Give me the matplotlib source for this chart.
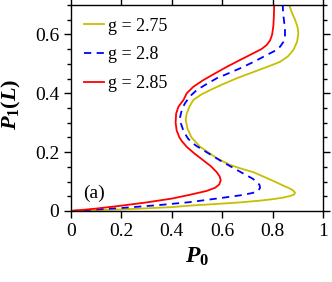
import matplotlib
matplotlib.use("Agg")
import matplotlib.pyplot as plt
from matplotlib.ticker import MultipleLocator, FuncFormatter

plt.rcParams['font.family'] = ['Liberation Serif', 'DejaVu Serif']
plt.rcParams['mathtext.fontset'] = 'custom'
plt.rcParams['mathtext.it'] = 'Liberation Serif:italic:bold'
plt.rcParams['mathtext.rm'] = 'Liberation Serif:bold'
plt.rcParams['mathtext.bf'] = 'Liberation Serif:bold'

# curves, (P0, P1) along each S-shaped branch
p0_275 = [0, 0.2, 0.4, 0.47, 0.6, 0.67, 0.75, 0.8, 0.84, 0.87, 0.885, 0.889, 0.882,
          0.869, 0.84, 0.80, 0.76, 0.723, 0.69, 0.66, 0.63, 0.604, 0.577, 0.552, 0.512,
          0.478, 0.462, 0.455, 0.459, 0.47, 0.485, 0.515, 0.552, 0.6, 0.657, 0.71,
          0.763, 0.80, 0.829, 0.86, 0.882, 0.897, 0.902, 0.899, 0.889, 0.876, 0.866]
p1_275 = [0, 0.005, 0.013, 0.018, 0.025, 0.029, 0.035, 0.04, 0.045, 0.051, 0.056, 0.062, 0.069,
          0.076, 0.087, 0.103, 0.118, 0.132, 0.14, 0.148, 0.157, 0.168, 0.18, 0.195, 0.218,
          0.25, 0.28, 0.31, 0.331, 0.355, 0.377, 0.395, 0.411, 0.43, 0.451, 0.468,
          0.485, 0.497, 0.507, 0.525, 0.547, 0.575, 0.604, 0.625, 0.650, 0.675, 0.70]

p0_280 = [0, 0.2, 0.35, 0.472, 0.604, 0.671, 0.72, 0.742, 0.75, 0.748, 0.738, 0.72,
          0.684, 0.64, 0.591, 0.545, 0.494, 0.465, 0.447, 0.437, 0.433, 0.433, 0.44,
          0.452, 0.472, 0.499, 0.535, 0.578, 0.625, 0.671, 0.725, 0.776, 0.81, 0.829,
          0.843, 0.849, 0.849, 0.846, 0.842, 0.84]
p1_280 = [0, 0.01, 0.02, 0.03, 0.045, 0.053, 0.061, 0.068, 0.078, 0.088, 0.099, 0.11,
          0.127, 0.148, 0.172, 0.196, 0.223, 0.245, 0.27, 0.295, 0.30, 0.32, 0.345,
          0.366, 0.39, 0.411, 0.43, 0.451, 0.468, 0.485, 0.507, 0.530, 0.545, 0.558,
          0.575, 0.593, 0.615, 0.64, 0.67, 0.70]

p0_285 = [0, 0.1, 0.2, 0.3, 0.4, 0.472, 0.538, 0.572, 0.588, 0.594, 0.59, 0.578,
          0.555, 0.525, 0.49, 0.459, 0.44, 0.43, 0.419, 0.415, 0.417, 0.426, 0.436,
          0.446, 0.459, 0.485, 0.525, 0.57, 0.618, 0.67, 0.723, 0.755, 0.776, 0.79,
          0.798, 0.803, 0.805, 0.806]
p1_285 = [0, 0.008, 0.018, 0.029, 0.042, 0.055, 0.068, 0.079, 0.09, 0.104, 0.117, 0.132,
          0.152, 0.172, 0.195, 0.218, 0.237, 0.25, 0.274, 0.30, 0.331, 0.354, 0.366,
          0.377, 0.400, 0.422, 0.445, 0.467, 0.490, 0.513, 0.536, 0.55, 0.564, 0.58,
          0.6, 0.63, 0.665, 0.70]

labels = ['g = 2.75', 'g = 2.8', 'g = 2.85']

fig = plt.figure(figsize=(3.32, 2.82), dpi=100)
ax = fig.add_axes([0.214, 0.252, 0.759, 0.730])

ax.plot(p0_275, p1_275, color='#c8be00', lw=1.3, label=labels[0])
ax.plot(p0_280, p1_280, color='#0000ff', lw=1.3, ls=(0, (4, 3)), label=labels[1])
ax.plot(p0_285, p1_285, color='#ff0000', lw=1.3, label=labels[2])

ax.set_xlim(0, 1)
ax.set_ylim(0, 0.7)
ax.xaxis.set_major_locator(MultipleLocator(0.2))
ax.yaxis.set_major_locator(MultipleLocator(0.2))
ax.yaxis.set_minor_locator(MultipleLocator(0.05))
fmt = FuncFormatter(lambda v, p: '%g' % round(v, 2))
ax.xaxis.set_major_formatter(fmt)
ax.yaxis.set_major_formatter(fmt)
ax.tick_params(which='both', direction='out', top=True, right=True, labelsize=14, width=1)
ax.tick_params(which='major', length=5)
ax.tick_params(which='minor', length=3)
for s in ax.spines.values():
    s.set_linewidth(1.0)

ax.set_xlabel(r'$P_{\mathit{0}}$', fontsize=17, labelpad=4)
ax.set_ylabel(r'$P_{\mathit{1}}(L)$', fontsize=16)
ax.yaxis.set_label_coords(-0.19, 0.52)

ax.text(0.09, 0.06, '(a)', fontsize=14, ha='center', va='center')
ax.legend(loc='upper left', frameon=False, fontsize=13, handlelength=1.15,
          handletextpad=0.2, labelspacing=0.65, borderaxespad=0.4, borderpad=0.3)

fig.savefig('out.png', dpi=100)
